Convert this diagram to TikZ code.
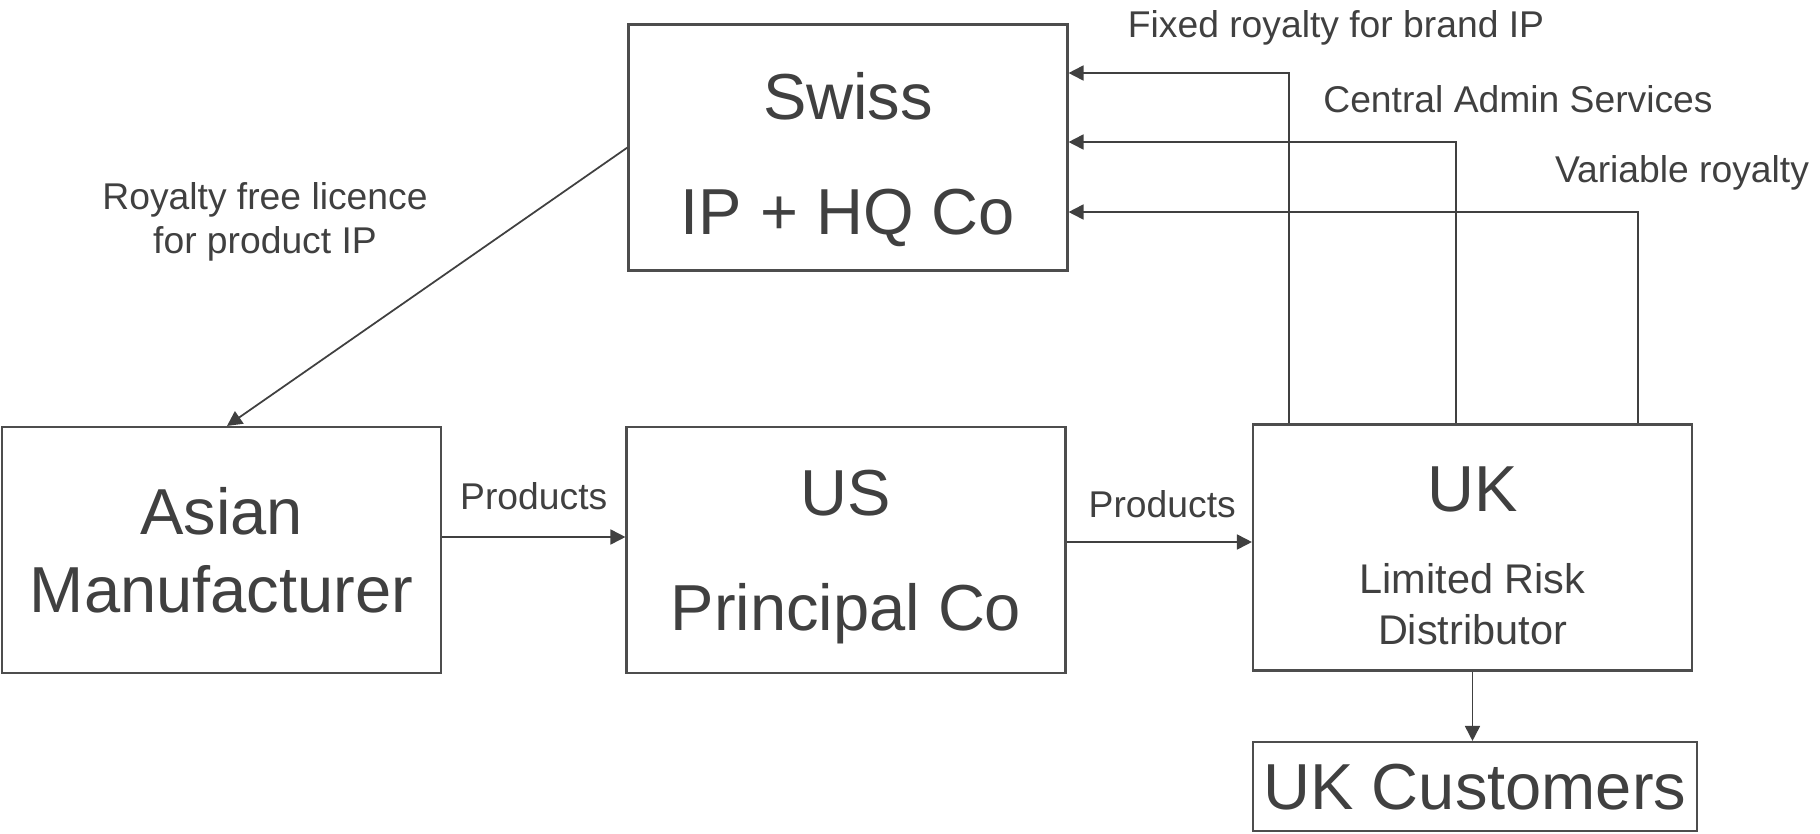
\documentclass[tikz,border=0pt]{standalone}
\usepackage{fontspec}
\setmainfont{Liberation Sans}
\usetikzlibrary{arrows.meta}
\definecolor{ink}{HTML}{404040}
\definecolor{frame}{HTML}{4D4D4D}
\begin{document}
\begin{tikzpicture}
[entity/.style={draw=frame,line width=0.6pt,text=ink,align=center,inner sep=0pt,text depth=0pt,
  minimum width=4.39cm,minimum height=2.46cm,font=\fontsize{18.5}{22}\selectfont},
flow/.style={draw=ink,line width=0.5pt,-{Triangle[length=1.5mm,width=1.5mm]}},
flow text/.style={text=ink,inner sep=0pt,font=\fontsize{10.6}{12.5}\selectfont}]
\useasboundingbox (0,0) rectangle (18.2,-8.34);
\node[entity,text height=1.73cm] (swiss) at (8.48,-1.475) {Swiss\\[10.7pt]IP + HQ Co};
\node[entity] (asian) at (2.215,-5.50) {Asian\\Manufacturer};
\node[entity] (us) at (8.46,-5.50) {US\\[10.7pt]Principal Co};
\node[entity,text height=1.94cm] (uk) at (14.725,-5.475)
  {UK\\[1.3pt]{\fontsize{11.8}{14.5}\selectfont Limited Risk}\\[-7.5pt]{\fontsize{11.8}{14.5}\selectfont Distributor}};
\node[entity,minimum width=4.44cm,minimum height=0.89cm] (ukcust) at (14.75,-7.865) {UK Customers};
\node[flow text,align=center,anchor=north] (licence) at (2.65,-1.82) {Royalty free licence\\for product IP};
\node[flow text,anchor=base] (fixed) at (13.36,-0.37) {Fixed royalty for brand IP};
\node[flow text,anchor=base] (admin) at (15.18,-1.12) {Central Admin Services};
\node[flow text,anchor=base] (variable) at (16.82,-1.82) {Variable royalty};
\draw[flow] (swiss.west) -- ([xshift=0.055cm]asian.north);
\draw[flow] ([yshift=0.13cm]asian.east) -- ([yshift=0.13cm]us.west)
  node[flow text,midway,above=2.6mm] (prod1) {Products};
\draw[flow] ([yshift=0.08cm]us.east) -- ([yshift=0.08cm]us.east -| uk.west)
  node[flow text,midway,above=2.35mm,xshift=0.03cm] (prod2) {Products};
\draw[flow] ([xshift=-1.835cm]uk.north) |- ([yshift=0.745cm]swiss.east);
\draw[flow] ([xshift=-0.165cm]uk.north) |- ([yshift=0.055cm]swiss.east);
\draw[flow] ([xshift=1.655cm]uk.north) |- ([yshift=-0.645cm]swiss.east);
\draw[flow] (uk.south) -- (uk.south |- ukcust.north);
\end{tikzpicture}
\end{document}
